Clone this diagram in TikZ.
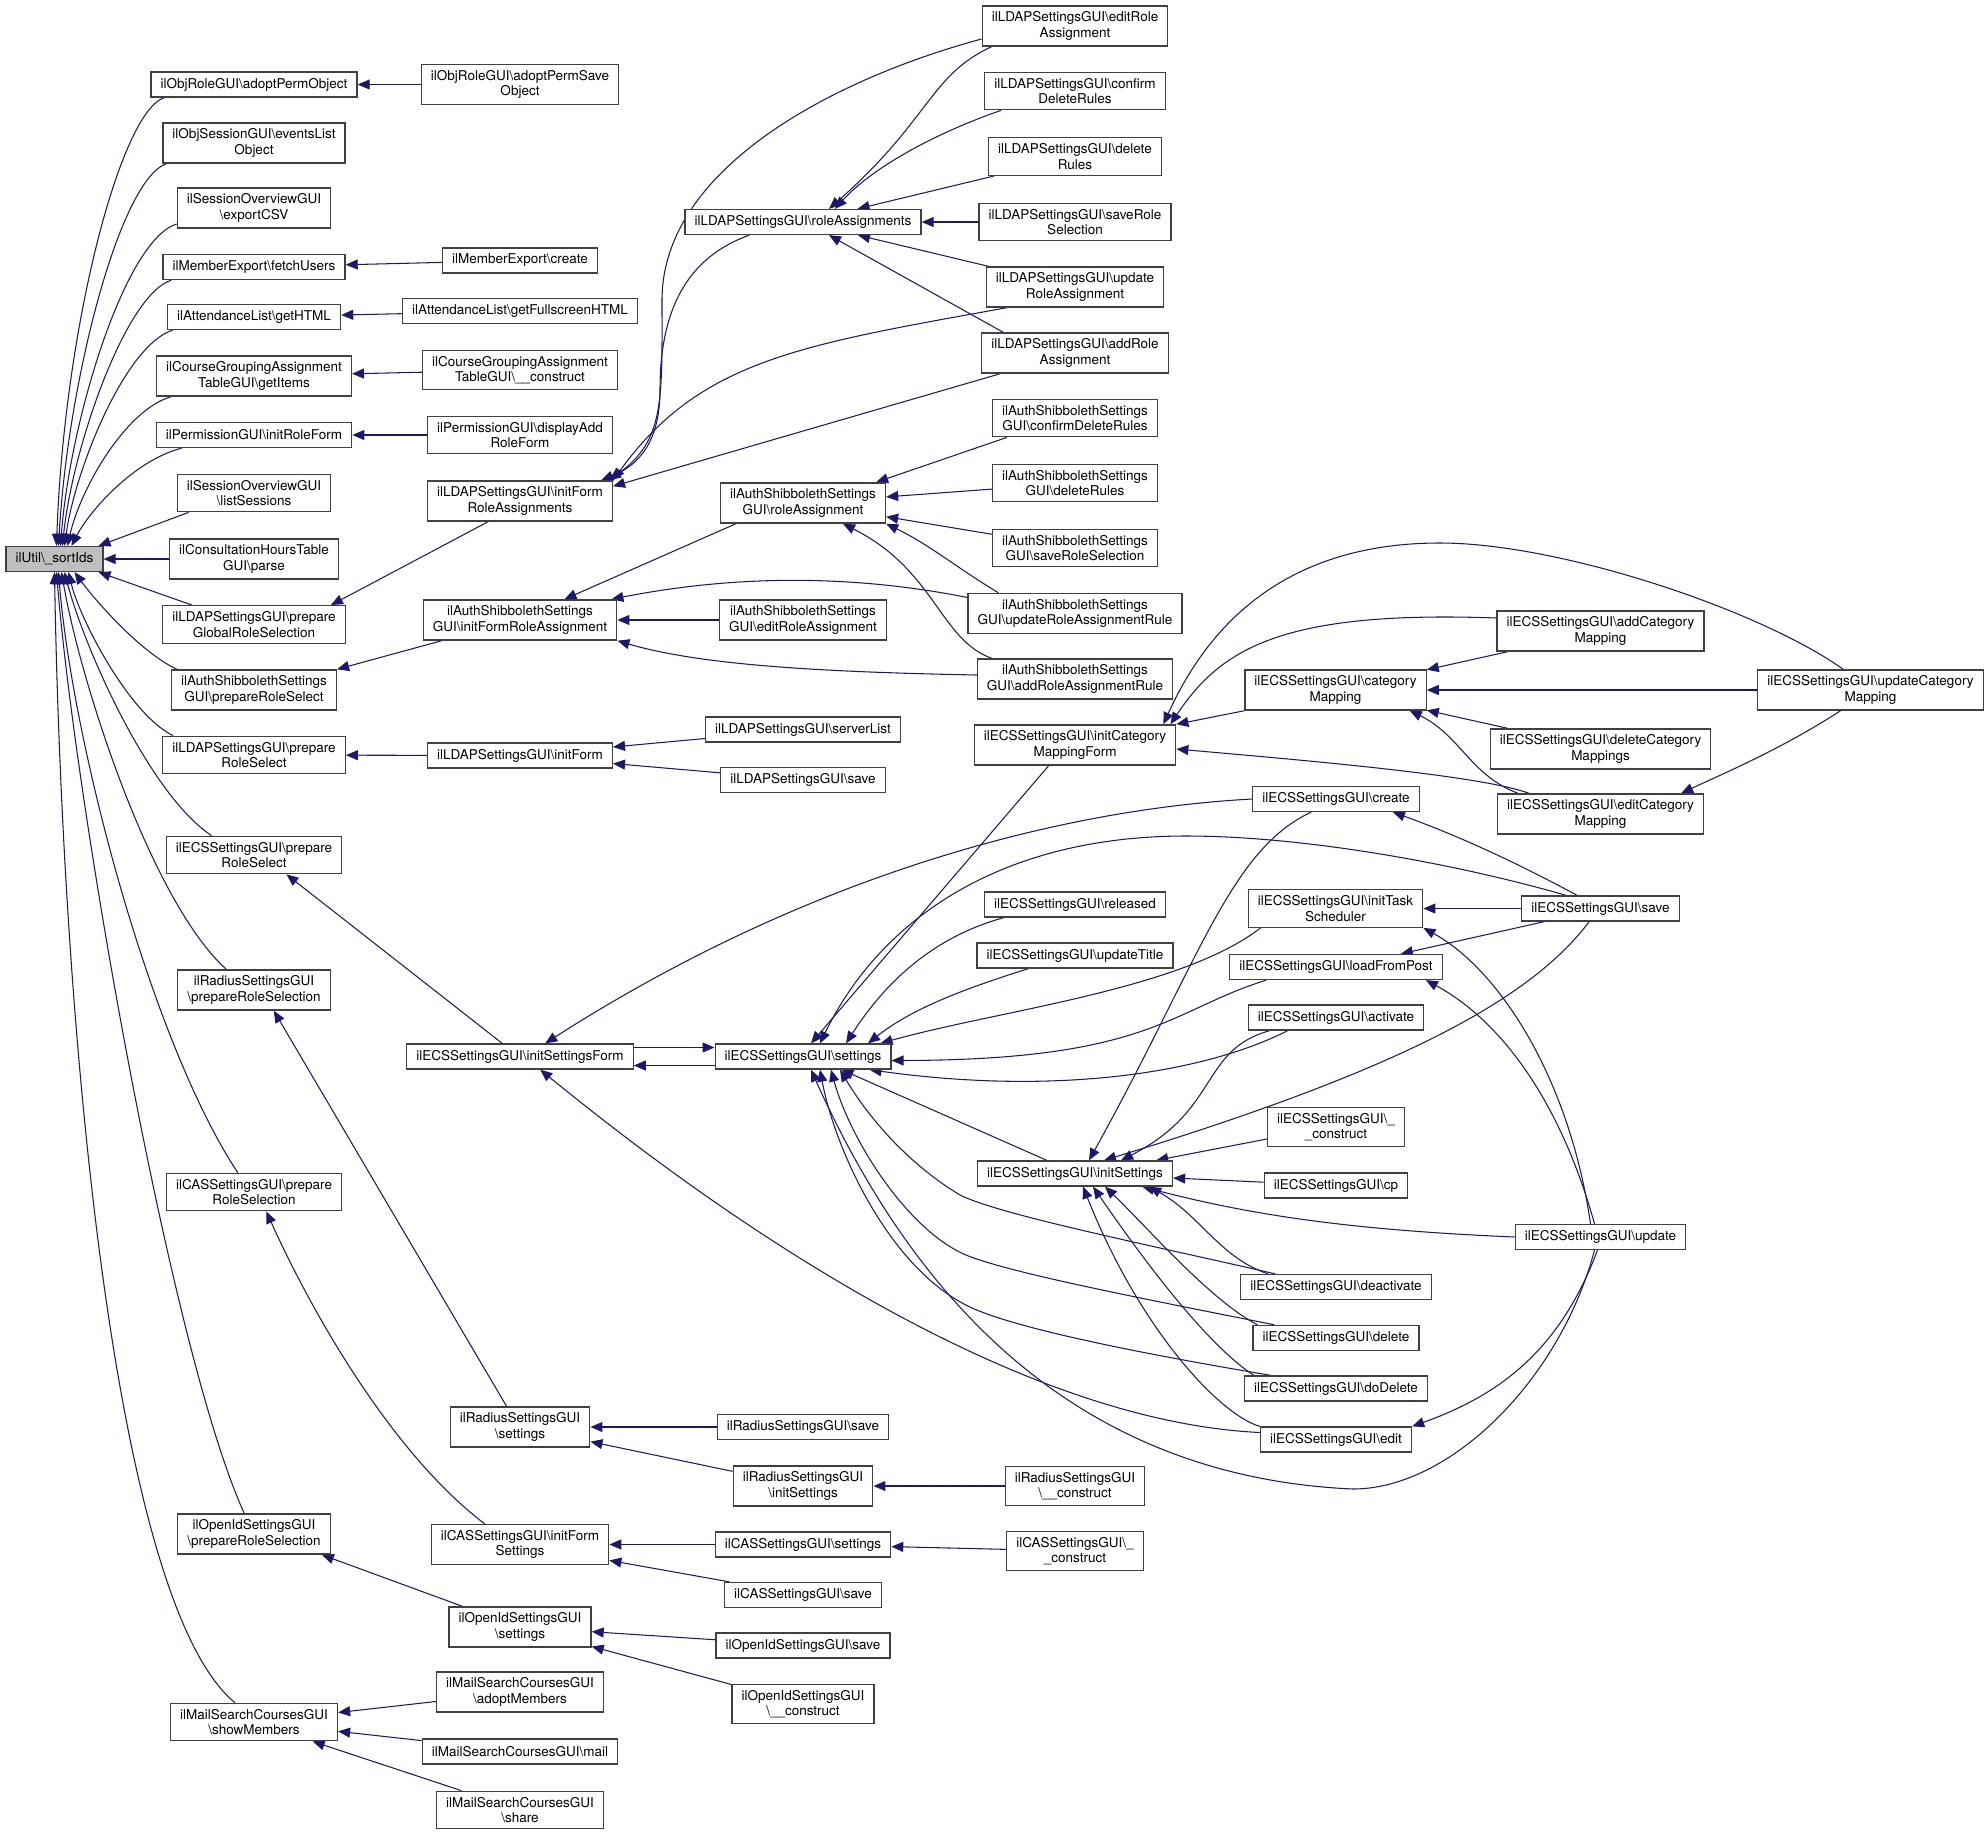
\documentclass[tikz,border=0pt]{standalone}
\usepackage{fontspec}
\setmainfont{TeX Gyre Heros}
\usetikzlibrary{arrows.meta, calc, backgrounds}

\definecolor{calledge}{HTML}{191970}
\newcommand{\bsl}{\textbackslash}

\begin{document}
\begin{tikzpicture}[
        x=0.025cm, y=-0.025cm,
        box/.style={rectangle, draw=black!75, line width=0.9pt, fill=white, align=center, font=\fontsize{9.6}{10.8}\selectfont, inner xsep=0.24cm, inner ysep=0.15cm, minimum height=0.625cm},
        rootbox/.style={box, fill=black!25},
        call/.style={-{Triangle[length=0.3cm, width=0.25cm]}, draw=calledge, line width=0.75pt}
    ]

    \useasboundingbox (0,0) rectangle (1988,1836);

    % Root
    \node[rootbox] (sortIds) at (54.5,559) {ilUtil\bsl\_sortIds};

    % Direct callers
    \node[box] (adoptPermObject) at (254,84.5) {ilObjRoleGUI\bsl adoptPermObject};
    \node[box] (eventsListObject) at (254,143) {ilObjSessionGUI\bsl eventsList\\Object};
    \node[box] (exportCSV) at (254,208) {ilSessionOverviewGUI\\\bsl exportCSV};
    \node[box] (fetchUsers) at (254,267) {ilMemberExport\bsl fetchUsers};
    \node[box] (getHTML) at (254,317) {ilAttendanceList\bsl getHTML};
    \node[box] (getItems) at (254,376) {ilCourseGroupingAssignment\\TableGUI\bsl getItems};
    \node[box] (initRoleForm) at (254,435) {ilPermissionGUI\bsl initRoleForm};
    \node[box] (listSessions) at (254,493) {ilSessionOverviewGUI\\\bsl listSessions};
    \node[box] (consultParse) at (254,559) {ilConsultationHoursTable\\GUI\bsl parse};
    \node[box] (prepGlobal) at (254,624.5) {ilLDAPSettingsGUI\bsl prepare\\GlobalRoleSelection};
    \node[box] (shibPrepRole) at (254,690) {ilAuthShibbolethSettings\\GUI\bsl prepareRoleSelect};
    \node[box] (ldapPrepRole) at (254,755) {ilLDAPSettingsGUI\bsl prepare\\RoleSelect};
    \node[box] (ecsPrepRole) at (254,855) {ilECSSettingsGUI\bsl prepare\\RoleSelect};
    \node[box] (radiusPrepRole) at (254,990) {ilRadiusSettingsGUI\\\bsl prepareRoleSelection};
    \node[box] (casPrepRole) at (254,1192) {ilCASSettingsGUI\bsl prepare\\RoleSelection};
    \node[box] (openidPrepRole) at (254,1534) {ilOpenIdSettingsGUI\\\bsl prepareRoleSelection};
    \node[box] (showMembers) at (254,1722) {ilMailSearchCoursesGUI\\\bsl showMembers};

    % Second level
    \node[box] (adoptPermSave) at (520,84.5) {ilObjRoleGUI\bsl adoptPermSave\\Object};
    \node[box] (memberCreate) at (520,260.5) {ilMemberExport\bsl create};
    \node[box] (fullscreenHTML) at (520,311) {ilAttendanceList\bsl getFullscreenHTML};
    \node[box] (groupingConstruct) at (520,370) {ilCourseGroupingAssignment\\TableGUI\bsl\_\_construct};
    \node[box] (displayAddRoleForm) at (520,435) {ilPermissionGUI\bsl displayAdd\\RoleForm};
    \node[box] (ldapIFRA) at (520,501) {ilLDAPSettingsGUI\bsl initForm\\RoleAssignments};
    \node[box] (shibIFRA) at (520,620) {ilAuthShibbolethSettings\\GUI\bsl initFormRoleAssignment};
    \node[box] (ldapInitForm) at (520,755.5) {ilLDAPSettingsGUI\bsl initForm};
    \node[box] (initSettingsForm) at (520,1056.5) {ilECSSettingsGUI\bsl initSettingsForm};
    \node[box] (radiusSettings) at (520,1427) {ilRadiusSettingsGUI\\\bsl settings};
    \node[box] (casIFS) at (520,1544.5) {ilCASSettingsGUI\bsl initForm\\Settings};
    \node[box] (openidSettings) at (520,1627) {ilOpenIdSettingsGUI\\\bsl settings};
    \node[box] (adoptMembers) at (520,1692) {ilMailSearchCoursesGUI\\\bsl adoptMembers};
    \node[box] (mailMembers) at (520,1751.5) {ilMailSearchCoursesGUI\bsl mail};
    \node[box] (shareMembers) at (520,1810) {ilMailSearchCoursesGUI\\\bsl share};

    % Third level
    \node[box] (roleAssignments) at (803,222) {ilLDAPSettingsGUI\bsl roleAssignments};
    \node[box] (shibRA) at (803,503) {ilAuthShibbolethSettings\\GUI\bsl roleAssignment};
    \node[box] (shibEditRA) at (803,620) {ilAuthShibbolethSettings\\GUI\bsl editRoleAssignment};
    \node[box] (serverList) at (803,729.5) {ilLDAPSettingsGUI\bsl serverList};
    \node[box] (ldapSave) at (803,780) {ilLDAPSettingsGUI\bsl save};
    \node[box] (ecsSettings) at (803,1056.5) {ilECSSettingsGUI\bsl settings};
    \node[box] (radiusSave) at (803,1427) {ilRadiusSettingsGUI\bsl save};
    \node[box] (radiusInitSettings) at (803,1486) {ilRadiusSettingsGUI\\\bsl initSettings};
    \node[box] (casSettings) at (803,1544.5) {ilCASSettingsGUI\bsl settings};
    \node[box] (casSave) at (803,1595) {ilCASSettingsGUI\bsl save};
    \node[box] (openidSave) at (803,1645.5) {ilOpenIdSettingsGUI\bsl save};
    \node[box] (openidConstruct) at (803,1704) {ilOpenIdSettingsGUI\\\bsl\_\_construct};

    % Fourth level
    \node[box] (editRoleAssign) at (1075,26) {ilLDAPSettingsGUI\bsl editRole\\Assignment};
    \node[box] (confirmDeleteRules) at (1075,91) {ilLDAPSettingsGUI\bsl confirm\\DeleteRules};
    \node[box] (deleteRules) at (1075,156.5) {ilLDAPSettingsGUI\bsl delete\\Rules};
    \node[box] (saveRoleSelection) at (1075,222) {ilLDAPSettingsGUI\bsl saveRole\\Selection};
    \node[box] (updateRoleAssign) at (1075,287) {ilLDAPSettingsGUI\bsl update\\RoleAssignment};
    \node[box] (addRoleAssign) at (1075,353) {ilLDAPSettingsGUI\bsl addRole\\Assignment};
    \node[box] (shibConfirmDelete) at (1075,418) {ilAuthShibbolethSettings\\GUI\bsl confirmDeleteRules};
    \node[box] (shibDeleteRules) at (1075,483) {ilAuthShibbolethSettings\\GUI\bsl deleteRules};
    \node[box] (shibSaveRoleSel) at (1075,548) {ilAuthShibbolethSettings\\GUI\bsl saveRoleSelection};
    \node[box] (shibUpdateRule) at (1075,613.5) {ilAuthShibbolethSettings\\GUI\bsl updateRoleAssignmentRule};
    \node[box] (shibAddRule) at (1075,679) {ilAuthShibbolethSettings\\GUI\bsl addRoleAssignmentRule};
    \node[box] (initCatMapForm) at (1075,745) {ilECSSettingsGUI\bsl initCategory\\MappingForm};
    \node[box] (released) at (1075,904.5) {ilECSSettingsGUI\bsl released};
    \node[box] (updateTitle) at (1075,955.5) {ilECSSettingsGUI\bsl updateTitle};
    \node[box] (initSettings) at (1075,1173.5) {ilECSSettingsGUI\bsl initSettings};
    \node[box] (radiusConstruct) at (1075,1486) {ilRadiusSettingsGUI\\\bsl\_\_construct};
    \node[box] (casConstruct) at (1075,1551) {ilCASSettingsGUI\bsl\_\\\_construct};

    % Fifth level
    \node[box] (categoryMapping) at (1335.5,690) {ilECSSettingsGUI\bsl category\\Mapping};
    \node[box] (ecsCreate) at (1336,799) {ilECSSettingsGUI\bsl create};
    \node[box] (initTaskScheduler) at (1335.5,908.5) {ilECSSettingsGUI\bsl initTask\\Scheduler};
    \node[box] (loadFromPost) at (1336,967) {ilECSSettingsGUI\bsl loadFromPost};
    \node[box] (activate) at (1336,1017.5) {ilECSSettingsGUI\bsl activate};
    \node[box] (ecsConstruct) at (1336,1127) {ilECSSettingsGUI\bsl\_\\\_construct};
    \node[box] (ecsCp) at (1336,1185.5) {ilECSSettingsGUI\bsl cp};
    \node[box] (deactivate) at (1336,1287) {ilECSSettingsGUI\bsl deactivate};
    \node[box] (ecsDelete) at (1336,1338) {ilECSSettingsGUI\bsl delete};
    \node[box] (doDelete) at (1336,1388.5) {ilECSSettingsGUI\bsl doDelete};
    \node[box] (ecsEdit) at (1336,1439.5) {ilECSSettingsGUI\bsl edit};

    % Sixth and seventh level
    \node[box] (addCatMap) at (1600.5,631) {ilECSSettingsGUI\bsl addCategory\\Mapping};
    \node[box] (deleteCatMaps) at (1600.5,749) {ilECSSettingsGUI\bsl deleteCategory\\Mappings};
    \node[box] (editCatMap) at (1600.5,814) {ilECSSettingsGUI\bsl editCategory\\Mapping};
    \node[box] (ecsSave) at (1600.5,908.5) {ilECSSettingsGUI\bsl save};
    \node[box] (ecsUpdate) at (1600.5,1237) {ilECSSettingsGUI\bsl update};
    \node[box] (updateCatMap) at (1870.5,690) {ilECSSettingsGUI\bsl updateCategory\\Mapping};

    \begin{scope}[on background layer]
    % Calls into the root
    \draw[call] ($(adoptPermObject.south west)+(14,0)$) .. controls (120,112) and (64,330) .. ($(sortIds.north)+(2,0)$);
    \draw[call] ($(eventsListObject.south west)+(4,0)$) .. controls (120,180) and (68,380) .. ($(sortIds.north)+(4,0)$);
    \draw[call] ($(exportCSV.west)+(0,16)$) .. controls (125,240) and (70,420) .. ($(sortIds.north)+(6,0)$);
    \draw[call] ($(fetchUsers.south west)+(9,0)$) .. controls (125,295) and (72,450) .. ($(sortIds.north)+(8,0)$);
    \draw[call] ($(getHTML.south west)+(6,0)$) .. controls (125,345) and (75,470) .. ($(sortIds.north)+(10,0)$);
    \draw[call] ($(getItems.south west)+(15,0)$) .. controls (125,410) and (80,490) .. ($(sortIds.north)+(13,0)$);
    \draw[call] ($(initRoleForm.south west)+(26,0)$) .. controls (135,460) and (90,510) .. ($(sortIds.north)+(17,0)$);
    \draw[call] ($(listSessions.south west)+(12,0)$) -- ($(sortIds.north east)+(-5,0)$);
    \draw[call] (consultParse) -- (sortIds);
    \draw[call] ($(prepGlobal.north west)+(30,0)$) -- ($(sortIds.south east)+(-5,0)$);
    \draw[call] ($(shibPrepRole.north west)+(6,0)$) .. controls (140,652) and (95,600) .. ($(sortIds.south)+(20,0)$);
    \draw[call] ($(ldapPrepRole.north west)+(11,0)$) .. controls (130,715) and (80,620) .. ($(sortIds.south)+(14,0)$);
    \draw[call] ($(ecsPrepRole.north west)+(46,0)$) .. controls (150,795) and (85,650) .. ($(sortIds.south)+(10,0)$);
    \draw[call] ($(radiusPrepRole.north west)+(49,0)$) .. controls (150,900) and (80,680) .. ($(sortIds.south)+(7,0)$);
    \draw[call] ($(casPrepRole.north west)+(72,0)$) .. controls (150,1040) and (72,740) .. ($(sortIds.south)+(4,0)$);
    \draw[call] ($(openidPrepRole.north west)+(67,0)$) .. controls (170,1350) and (75,800) .. ($(sortIds.south)+(2,0)$);
    \draw[call] ($(showMembers.north west)+(65,0)$) .. controls (110,1600) and (62,1000) .. (sortIds.south);

    % Simple second level calls
    \draw[call] (adoptPermSave) -- (adoptPermObject);
    \draw[call] (memberCreate) -- (fetchUsers);
    \draw[call] (fullscreenHTML) -- (getHTML);
    \draw[call] (groupingConstruct) -- (getItems);
    \draw[call] (displayAddRoleForm) -- (initRoleForm);
    \draw[call] ($(ldapIFRA.south west)+(61,0)$) -- ($(prepGlobal.north east)+(-15,0)$);
    \draw[call] ($(shibIFRA.south west)+(19,0)$) -- (shibPrepRole.north east);
    \draw[call] (ldapInitForm) -- (ldapPrepRole);
    \draw[call] ($(initSettingsForm.north west)+(96,0)$) -- ($(ecsPrepRole.south east)+(-56,0)$);
    \draw[call] ($(radiusSettings.north west)+(57,0)$) -- ($(radiusPrepRole.south east)+(-57,0)$);
    \draw[call] ($(casIFS.north west)+(54,0)$) .. controls (400,1460) and (320,1330) .. ($(casPrepRole.south east)+(-76,0)$);
    \draw[call] ($(openidSettings.north west)+(14,0)$) -- ($(openidPrepRole.south east)+(-9,0)$);
    \draw[call] (adoptMembers) -- (showMembers);
    \draw[call] (mailMembers) -- (showMembers);
    \draw[call] (shareMembers) -- (showMembers);

    % Radius, CAS, OpenId
    \draw[call] (radiusSave) -- (radiusSettings);
    \draw[call] (radiusInitSettings) -- (radiusSettings);
    \draw[call] (radiusConstruct) -- (radiusInitSettings);
    \draw[call] (casSettings) -- (casIFS);
    \draw[call] (casSave) -- (casIFS);
    \draw[call] (casConstruct) -- (casSettings);
    \draw[call] (openidSave) -- (openidSettings);
    \draw[call] (openidConstruct) -- (openidSettings);

    % LDAP role assignments
    \draw[call] ($(editRoleAssign.south west)+(10,0)$) .. controls (930,75) and (930,120) .. ($(roleAssignments.north)+(26,0)$);
    \draw[call] ($(confirmDeleteRules.south west)+(17,0)$) .. controls (930,135) and (870,170) .. ($(roleAssignments.north)+(32,0)$);
    \draw[call] (deleteRules) -- (roleAssignments);
    \draw[call] (saveRoleSelection) -- (roleAssignments);
    \draw[call] (updateRoleAssign) -- (roleAssignments);
    \draw[call] ($(addRoleAssign.north west)+(22,0)$) -- ($(roleAssignments.south)+(26,0)$);
    \draw[call] ($(editRoleAssign.west)+(0,13)$) .. controls (830,80) and (662,170) .. (662,300) .. controls (662,400) and (665,440) .. ($(ldapIFRA.north east)+(-4,0)$);
    \draw[call] ($(roleAssignments.south west)+(65,0)$) .. controls (680,260) and (660,320) .. (660,390) .. controls (660,440) and (640,465) .. ($(ldapIFRA.north east)+(-12,0)$);
    \draw[call] ($(updateRoleAssign.south west)+(21,0)$) .. controls (800,345) and (700,360) .. (ldapIFRA.north east);
    \draw[call] ($(addRoleAssign.south west)+(19,0)$) -- ($(ldapIFRA.north east)+(0,6)$);

    % Shibboleth role assignments
    \draw[call] ($(shibConfirmDelete.south west)+(15,0)$) -- ($(shibRA.north east)+(-10,0)$);
    \draw[call] (shibDeleteRules) -- (shibRA);
    \draw[call] (shibSaveRoleSel) -- (shibRA);
    \draw[call] ($(shibUpdateRule.north west)+(31,0)$) .. controls (960,570) and (930,545) .. (shibRA.south east);
    \draw[call] ($(shibAddRule.north west)+(15,0)$) .. controls (940,640) and (935,570) .. ($(shibRA.south)+(40,0)$);
    \draw[call] ($(shibRA.south west)+(16,0)$) -- ($(shibIFRA.north east)+(-53,0)$);
    \draw[call] ($(shibUpdateRule.west)+(0,-16)$) .. controls (880,580) and (760,570) .. ($(shibIFRA.north east)+(-6,0)$);
    \draw[call] (shibEditRA) -- (shibIFRA);
    \draw[call] ($(shibAddRule.west)+(0,-4)$) .. controls (820,672) and (700,665) .. (shibIFRA.south east);

    % LDAP server form
    \draw[call] (serverList) -- (ldapInitForm);
    \draw[call] (ldapSave) -- (ldapInitForm);

    % ECS settings form
    \draw[call] ($(initSettingsForm.east)+(0,-9)$) -- ($(ecsSettings.west)+(0,-9)$);
    \draw[call] ($(ecsSettings.west)+(0,9)$) -- ($(initSettingsForm.east)+(0,9)$);
    \draw[call] (ecsCreate.west) .. controls (1050,810) and (800,880) .. ($(initSettingsForm.north west)+(139,0)$);
    \draw[call] ($(ecsEdit.west)+(0,-7)$) .. controls (1000,1420) and (700,1200) .. ($(initSettingsForm.south west)+(134,0)$);

    % ECS settings
    \draw[call] ($(initCatMapForm.south west)+(75,0)$) -- ($(ecsSettings.north)+(8,0)$);
    \draw[call] ($(ecsSave.north west)+(45,0)$) .. controls (1450,862) and (1300,836) .. (1186,836) .. controls (1000,836) and (880,920) .. ($(ecsSettings.north)+(17,0)$);
    \draw[call] ($(released.south west)+(20,0)$) .. controls (940,935) and (890,975) .. ($(ecsSettings.north)+(43,0)$);
    \draw[call] ($(updateTitle.south west)+(52,0)$) .. controls (960,990) and (910,1010) .. ($(ecsSettings.north)+(65,0)$);
    \draw[call] ($(initTaskScheduler.south west)+(13,0)$) .. controls (1180,990) and (1000,1010) .. ($(ecsSettings.north east)+(-11,0)$);
    \draw[call] ($(loadFromPost.south west)+(37,0)$) .. controls (1170,1010) and (1150,1060) .. ($(ecsSettings.east)+(0,4)$);
    \draw[call] ($(activate.south west)+(40,0)$) .. controls (1200,1075) and (1050,1095) .. ($(ecsSettings.south east)+(-22,0)$);
    \draw[call] ($(initSettings.north west)+(70,0)$) -- ($(ecsSettings.south east)+(-50,0)$);
    \draw[call] ($(deactivate.north west)+(35,0)$) .. controls (1150,1245) and (1000,1215) .. (960,1195) .. controls (910,1165) and (870,1120) .. ($(ecsSettings.south)+(37,0)$);
    \draw[call] ($(ecsDelete.north west)+(22,0)$) .. controls (1150,1300) and (1020,1275) .. (971,1257) .. controls (910,1235) and (850,1140) .. ($(ecsSettings.south)+(28,0)$);
    \draw[call] ($(doDelete.north west)+(27,0)$) .. controls (1150,1355) and (1020,1330) .. (971,1307.5) .. controls (890,1270) and (835,1150) .. ($(ecsSettings.south)+(17,0)$);
    \draw[call] ($(ecsUpdate.south)+(-6,0)$) .. controls (1560,1380) and (1450,1489) .. (1353,1489) .. controls (1150,1480) and (950,1380) .. ($(ecsSettings.south)+(8,0)$);

    % ECS init settings
    \draw[call] ($(ecsCreate.south west)+(59,0)$) .. controls (1230,850) and (1200,960) .. ($(initSettings.north)+(14,0)$);
    \draw[call] ($(ecsSave.south west)+(68,0)$) .. controls (1530,1000) and (1400,1070) .. ($(initSettings.north)+(29,0)$);
    \draw[call] ($(activate.south west)+(22,0)$) .. controls (1200,1050) and (1220,1110) .. ($(initSettings.north)+(46,0)$);
    \draw[call] ($(ecsConstruct.west)+(0,12)$) -- ($(initSettings.north east)+(-17,0)$);
    \draw[call] (ecsCp) -- (initSettings);
    \draw[call] (ecsUpdate.west) .. controls (1350,1230) and (1250,1215) .. ($(initSettings.south east)+(-31,0)$);
    \draw[call] ($(deactivate.north west)+(28,0)$) .. controls (1220,1258) and (1200,1215) .. ($(initSettings.south east)+(-24,0)$);
    \draw[call] ($(ecsDelete.north west)+(5,0)$) .. controls (1210,1300) and (1150,1230) .. ($(initSettings.south)+(30,0)$);
    \draw[call] ($(doDelete.north west)+(10,0)$) .. controls (1200,1340) and (1130,1240) .. ($(initSettings.south)+(18,0)$);
    \draw[call] (ecsEdit.north west) .. controls (1220,1415) and (1140,1330) .. ($(initSettings.south)+(8,0)$);

    % ECS save and update
    \draw[call] (ecsSave) -- (initTaskScheduler);
    \draw[call] ($(ecsSave.north west)+(56,0)$) .. controls (1530,870) and (1470,840) .. ($(ecsCreate.south east)+(-27,0)$);
    \draw[call] ($(ecsSave.south west)+(23,0)$) -- ($(loadFromPost.north east)+(-42,0)$);
    \draw[call] ($(ecsUpdate.north)+(-10,0)$) .. controls (1570,1080) and (1500,970) .. (initTaskScheduler.south east);
    \draw[call] ($(ecsUpdate.north)+(-6,0)$) .. controls (1560,1100) and (1500,1020) .. ($(loadFromPost.south east)+(-17,0)$);
    \draw[call] ($(ecsUpdate.south)+(-3,0)$) .. controls (1560,1350) and (1500,1395) .. (ecsEdit.north east);

    % ECS category mapping
    \draw[call] (updateCatMap) -- (categoryMapping);
    \draw[call] (addCatMap) -- (categoryMapping);
    \draw[call] (deleteCatMaps) -- (categoryMapping);
    \draw[call] ($(editCatMap.north west)+(21,0)$) .. controls (1470,775) and (1460,735) .. ($(categoryMapping.south east)+(-17,0)$);
    \draw[call] ($(updateCatMap.south)+(-30,0)$) .. controls (1780,750) and (1720,775) .. ($(editCatMap.north east)+(-23,0)$);
    \draw[call] (categoryMapping.south west) -- (initCatMapForm.north east);
    \draw[call] ($(addCatMap.west)+(0,-13)$) .. controls (1280,610) and (1220,650) .. ($(initCatMapForm.north east)+(-6,0)$);
    \draw[call] ($(updateCatMap.north west)+(86,0)$) .. controls (1760,610) and (1560,543) .. (1440,543) .. controls (1300,543) and (1215,610) .. ($(initCatMapForm.north east)+(-13,0)$);
    \draw[call] ($(editCatMap.north west)+(32,0)$) .. controls (1480,775) and (1300,760) .. ($(initCatMapForm.east)+(0,4)$);
    \end{scope}

\end{tikzpicture}
\end{document}
